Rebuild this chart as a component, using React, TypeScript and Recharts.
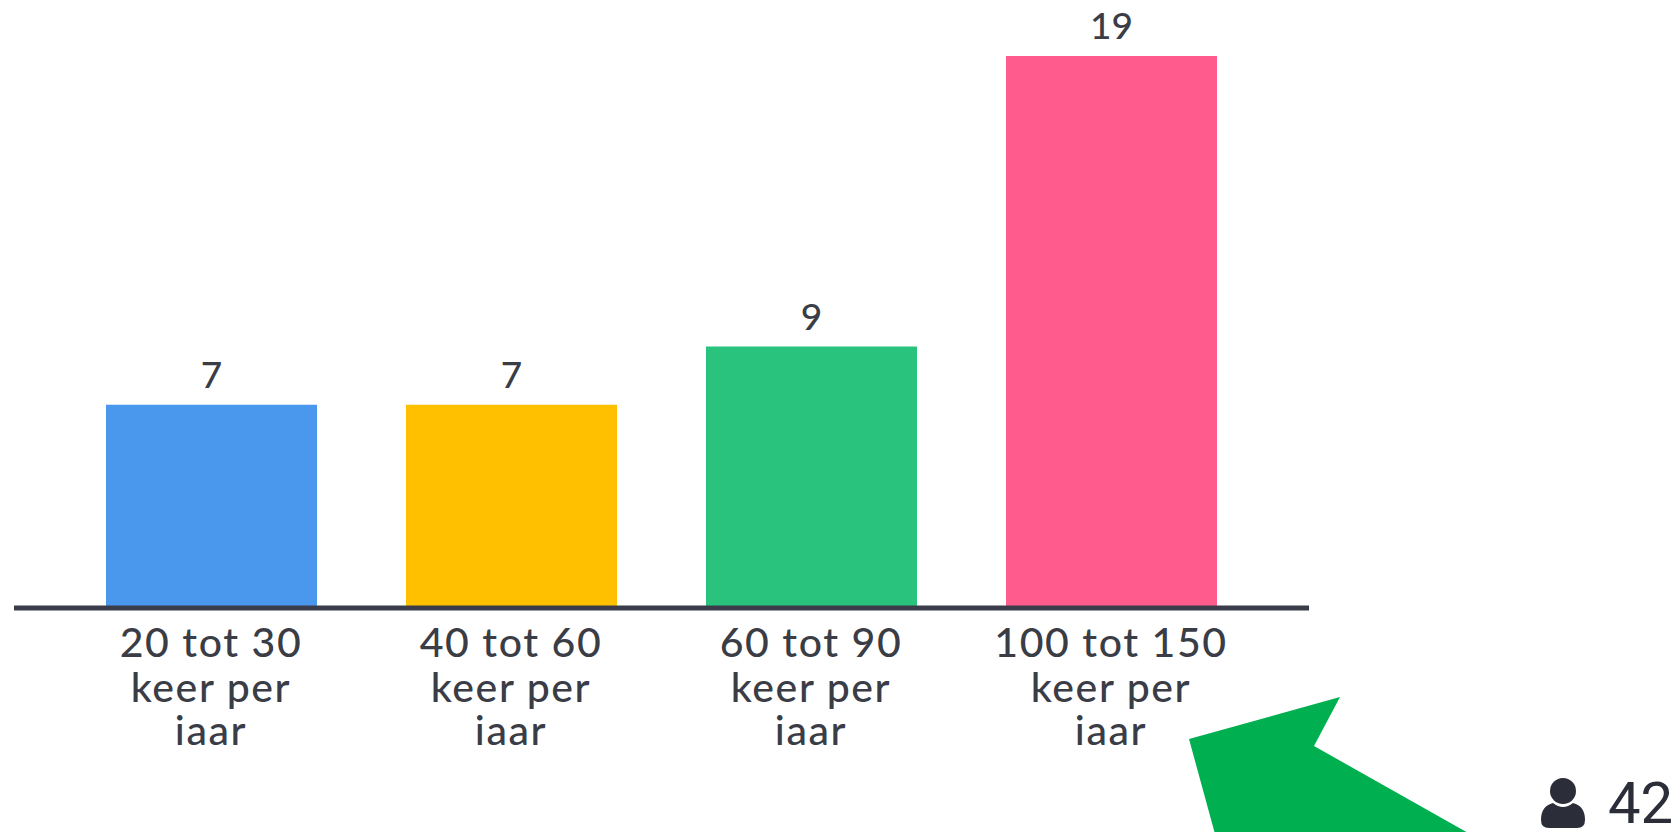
import { BarChart, Bar, XAxis, YAxis, Cell, LabelList } from "recharts";

const categories = ["20 tot 30", "40 tot 60", "60 tot 90", "100 tot 150"];
const tickLines = ["keer per", "iaar"];
const values = [7, 7, 9, 19];
const colors = ["#4A98EE", "#FFC000", "#2AC37E", "#FF5C8D"];
const total = "42";

const FONT = "Lato, 'Noto Sans', sans-serif";
const INK = "#3A3C46";

const data = categories.map((name, i) => ({ name, value: values[i] }));

function Tick({ x, y, payload }: any) {
  return (
    <text x={x} textAnchor="middle" fontFamily={FONT} fontWeight={500} fontSize={41} letterSpacing={1.6} fill={INK}>
      <tspan x={x} y={y + 41}>{payload.value}</tspan>
      <tspan x={x} y={y + 86}>{tickLines[0]}</tspan>
      <tspan x={x} y={y + 129}>{tickLines[1]}</tspan>
    </text>
  );
}

export default function App() {
  return (
    <div style={{ position: "absolute", left: 0, top: 0, width: 1680, height: 832, background: "#fff", overflow: "hidden" }}>
      <BarChart
        width={1680}
        height={832}
        data={data}
        margin={{ top: 56, right: 371, bottom: 0, left: 14 }}
      >
        <YAxis hide domain={[0, 19]} />
        <XAxis
          dataKey="name"
          height={224}
          interval={0}
          padding={{ left: 47, right: 48 }}
          axisLine={{ stroke: "#3A3C4A", strokeWidth: 5 }}
          tickLine={false}
          tick={<Tick />}
        />
        <Bar dataKey="value" barSize={211} isAnimationActive={false}>
          {data.map((d, i) => (
            <Cell key={d.name} fill={colors[i]} />
          ))}
          <LabelList
            dataKey="value"
            position="top"
            offset={17}
            fontFamily={FONT}
            fontWeight={500}
            fontSize={37}
            fill={INK}
          />
        </Bar>
      </BarChart>
      <svg width={1680} height={832} style={{ position: "absolute", left: 0, top: 0, pointerEvents: "none" }}>
        <polygon points="1340,697 1189,739 1215,834 1470,834 1314,746" fill="#00B050" />
        <circle cx={1563} cy={791} r={13} fill="#2B2D38" />
        <path d="M1541 820 q0 -14 12 -17 q10 8 20 0 q12 3 12 17 q0 8 -8 8 h-28 q-8 0 -8 -8z" fill="#2B2D38" />
        <text x={1608} y={823} fontFamily="Roboto, sans-serif" fontSize={58} fill="#2B2D38">{total}</text>
      </svg>
    </div>
  );
}
